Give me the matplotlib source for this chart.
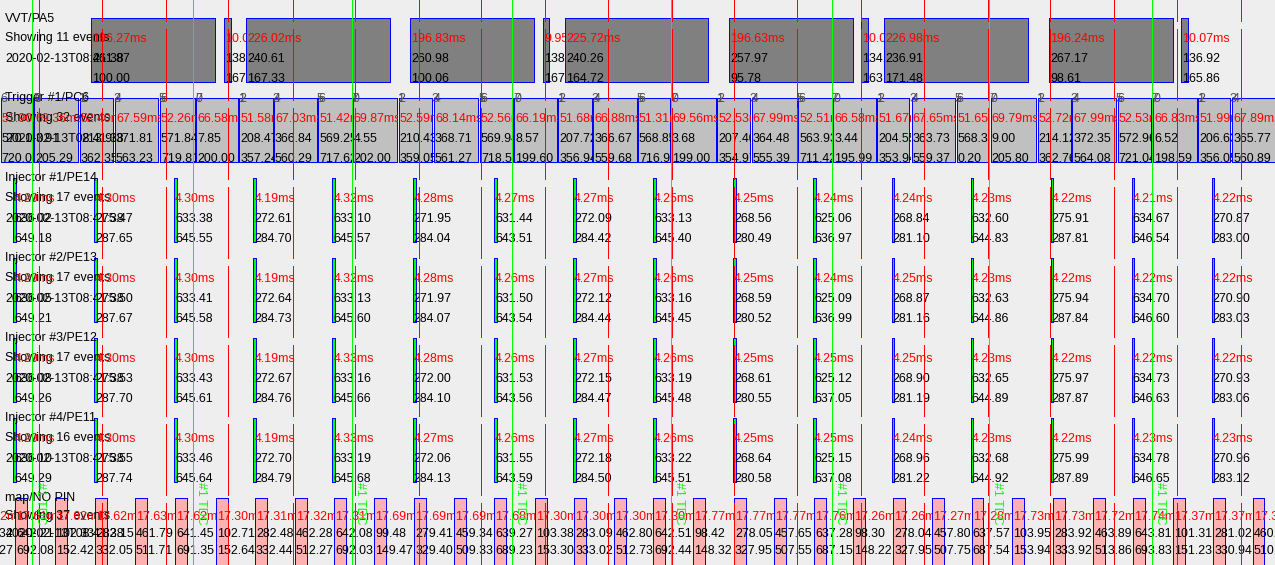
import matplotlib
matplotlib.use('Agg')  # headless
import matplotlib.pyplot as plt
from matplotlib.patches import Rectangle
from matplotlib.transforms import Bbox, TransformedBbox, blended_transform_factory

W, H = 1275, 565
BG = '#eeeeee'
FONT = 'Liberation Sans'
FS = 8.9
PX = 0.72  # one pixel in points at 100 dpi

date_label = '2020-02-13T08:41:38'

# positions are in screen units (pixels along the time axis)
tdc_x = [32.3, 193.3, 351.7, 512.3, 671, 832.3, 989, 1151.7]
tick_x = [39.3, 102.3, 165.7, 228.3, 292.7, 355.3, 418.7, 481, 545.3, 608.3, 671.5,
          734.3, 797.3, 861.3, 924.3, 987.7, 1050, 1114.3, 1177.3, 1240.7]

# VVT/PA5
vvt_start = [91.3, 224, 246.3, 410.3, 543.3, 565, 729.3, 861.3, 884.3, 1049, 1181]
vvt_end = [215.3, 230.7, 389.7, 534.3, 549.3, 708.3, 853.3, 868.3, 1027.7, 1173.3, 1188.3]
vvt_ms = ['196.27ms', '10.03ms', '226.02ms', '196.83ms', '9.95ms', '225.72ms',
          '196.63ms', '10.02ms', '226.98ms', '196.24ms', '10.07ms']
vvt_a = ['261.87', '138.25', '240.61', '260.98', '138.40', '240.26', '257.97',
         '134.50', '236.91', '267.17', '136.92']
vvt_b = ['100.00', '167.12', '167.33', '100.06', '167.60', '164.72', '95.78',
         '163.20', '171.48', '98.61', '165.86']

# Trigger #1/PC6
trg_start = [0.5, 34.3, 80, 115, 160, 196, 239.3, 274, 318.3, 352.7, 398.7, 434, 480,
             514.3, 558.3, 593.3, 638, 671, 717.3, 751.7, 798.3, 833.3, 877.3, 911.7,
             956.7, 990.7, 1037.7, 1072.3, 1117.7, 1153.3, 1198.3, 1232.3]
trg_end = [33.3, 78.3, 113.3, 158.3, 195, 237.7, 272.7, 316.7, 351.7, 397.3, 432, 478.3,
           513.3, 556.7, 591.7, 636.7, 670, 715.7, 750, 796.7, 831.7, 875.7, 909.3, 955,
           989.3, 1036, 1070.7, 1116, 1151, 1196.7, 1230, 1290]
trg_ms = ['51.90ms', '69.36ms', '52.40ms', '67.59ms', '52.26ms', '66.58ms', '51.58ms',
          '67.03ms', '51.42ms', '69.87ms', '52.59ms', '68.14ms', '52.56ms', '66.19ms',
          '51.68ms', '66.88ms', '51.31ms', '69.56ms', '52.53ms', '67.99ms', '52.51ms',
          '66.58ms', '51.67ms', '67.65ms', '51.65ms', '69.79ms', '52.72ms', '67.99ms',
          '52.53ms', '66.83ms', '51.99ms', '67.89ms']
trg_a = ['570.19', '3.91', '213.98', '371.81', '571.84', '7.85', '208.47', '366.84',
         '569.25', '4.55', '210.43', '368.71', '569.94', '8.57', '207.72', '366.67',
         '568.85', '3.68', '207.40', '364.48', '563.93', '3.44', '204.55', '363.73',
         '568.31', '9.00', '214.12', '372.35', '572.96', '6.52', '206.63', '365.77']
trg_b = ['720.03', '205.29', '362.35', '563.23', '719.81', '200.00', '357.24', '560.29',
         '717.62', '202.00', '359.05', '561.27', '718.53', '199.60', '356.94', '559.68',
         '716.93', '199.00', '354.97', '555.39', '711.42', '195.99', '353.94', '559.37',
         '0.20', '205.80', '362.76', '564.08', '721.04', '198.59', '356.05', '560.89']
trg_tooth = [6, 0, 2, 4, 6, 0, 2, 4, 6, 0, 2, 4, 6, 0, 2, 4,
             6, 0, 2, 4, 6, 0, 2, 4, 6, 0, 2, 4, 6, 0, 2, 4]

# injectors (all four fire together)
inj_start = [13.3, 94.3, 174, 253.3, 332.3, 412.7, 494, 573, 653, 733, 813, 891.5,
             970.5, 1050.5, 1131.5, 1211.5]
inj_width = 2.8
inj1_ms = ['4.29ms', '4.30ms', '4.30ms', '4.19ms', '4.32ms', '4.28ms', '4.27ms', '4.27ms',
           '4.25ms', '4.25ms', '4.24ms', '4.24ms', '4.23ms', '4.22ms', '4.21ms', '4.22ms']
inj1_a = ['636.02', '275.47', '633.38', '272.61', '633.10', '271.95', '631.44', '272.09',
          '633.13', '268.56', '625.06', '268.84', '632.60', '275.91', '634.67', '270.87']
inj1_b = ['649.18', '287.65', '645.55', '284.70', '645.57', '284.04', '643.51', '284.42',
          '645.40', '280.49', '636.97', '281.10', '644.83', '287.81', '646.54', '283.00']
inj2_ms = ['4.29ms', '4.30ms', '4.30ms', '4.19ms', '4.32ms', '4.28ms', '4.26ms', '4.27ms',
           '4.26ms', '4.25ms', '4.24ms', '4.25ms', '4.23ms', '4.22ms', '4.22ms', '4.22ms']
inj2_a = ['636.05', '275.50', '633.41', '272.64', '633.13', '271.97', '631.50', '272.12',
          '633.16', '268.59', '625.09', '268.87', '632.63', '275.94', '634.70', '270.90']
inj2_b = ['649.21', '287.67', '645.58', '284.73', '645.60', '284.07', '643.54', '284.44',
          '645.45', '280.52', '636.99', '281.16', '644.86', '287.84', '646.60', '283.03']
inj3_ms = ['4.29ms', '4.30ms', '4.30ms', '4.19ms', '4.33ms', '4.28ms', '4.26ms', '4.27ms',
           '4.26ms', '4.25ms', '4.25ms', '4.25ms', '4.23ms', '4.22ms', '4.22ms', '4.22ms']
inj3_a = ['636.08', '275.53', '633.43', '272.67', '633.16', '272.00', '631.53', '272.15',
          '633.19', '268.61', '625.12', '268.90', '632.65', '275.97', '634.73', '270.93']
inj3_b = ['649.26', '287.70', '645.61', '284.76', '645.66', '284.10', '643.56', '284.47',
          '645.48', '280.55', '637.05', '281.19', '644.89', '287.87', '646.63', '283.06']
inj4_ms = ['4.29ms', '4.30ms', '4.30ms', '4.19ms', '4.33ms', '4.27ms', '4.26ms', '4.27ms',
           '4.26ms', '4.25ms', '4.25ms', '4.24ms', '4.23ms', '4.22ms', '4.23ms', '4.23ms']
inj4_a = ['636.10', '275.55', '633.46', '272.70', '633.19', '272.06', '631.55', '272.18',
          '633.22', '268.64', '625.15', '268.96', '632.68', '275.99', '634.78', '270.96']
inj4_b = ['649.29', '287.74', '645.64', '284.79', '645.68', '284.13', '643.59', '284.50',
          '645.51', '280.58', '637.08', '281.22', '644.92', '287.89', '646.65', '283.12']

# map/NO PIN
map_start = [-25, 15, 55, 95, 135, 175, 216, 255, 295, 334.3, 374.3, 414.3, 454.3, 494.3,
             535, 574.3, 614.3, 653.3, 693.3, 734, 774, 814.3, 853.3, 893.3, 932.3, 971.7,
             1012.3, 1053.3, 1093.3, 1133.3, 1173.3, 1213.3, 1252.7]
map_width = 11.5
map_ms = ['17.32ms', '17.61ms', '17.62ms', '17.62ms', '17.63ms', '17.62ms', '17.30ms',
          '17.31ms', '17.32ms', '17.31ms', '17.69ms', '17.69ms', '17.69ms', '17.68ms',
          '17.30ms', '17.30ms', '17.30ms', '17.30ms', '17.77ms', '17.77ms', '17.77ms',
          '17.76ms', '17.26ms', '17.26ms', '17.27ms', '17.28ms', '17.73ms', '17.73ms',
          '17.72ms', '17.74ms', '17.37ms', '17.37ms', '17.37ms']
map_a = ['462.34', '642.21', '102.33', '282.15', '461.79', '641.45', '102.71', '282.48',
         '462.28', '642.08', '99.48', '279.41', '459.34', '639.27', '103.38', '283.09',
         '462.80', '642.51', '98.42', '278.05', '457.65', '637.28', '98.30', '278.04',
         '457.80', '637.57', '103.95', '283.92', '463.89', '643.81', '101.31', '281.02',
         '460.97']
map_b = ['512.27', '692.08', '152.42', '332.05', '511.71', '691.35', '152.64', '332.44',
         '512.27', '692.03', '149.47', '329.40', '509.33', '689.23', '153.30', '333.02',
         '512.73', '692.44', '148.32', '327.95', '507.55', '687.15', '148.22', '327.95',
         '507.75', '687.54', '153.94', '333.92', '513.86', '693.83', '151.23', '330.94',
         '510.92']

fig = plt.figure(figsize=(W / 100, H / 100), dpi=100)
fig.patch.set_facecolor(BG)
ax = fig.add_axes([0, 0, 1, 1])
ax.set_xlim(0, W)
ax.set_ylim(H, 0)
ax.axis('off')
xclip = blended_transform_factory(ax.transData, ax.transAxes)


def label(x, y, s, color='black', right=None):
    t = ax.text(x, y, s, color=color, fontsize=FS, family=FONT, va='baseline', ha='left',
                zorder=3)
    if right is not None:
        # each event's text only runs until the next event starts
        t.set_clip_box(TransformedBbox(Bbox([[x - 1, 0], [right, 1]]), xclip))
        t.set_clip_path(None)
        t.set_clip_on(True)
    return t


def row(y0, name, count, starts, ends, ms, a, b, fill, lines=(21.5, 41.5, 61.5, 81.5),
        bottom=82):
    label(5, y0 + lines[0], name)
    label(5, y0 + lines[1], f'Showing {count} events')
    label(5, y0 + lines[2], date_label)
    for i, (s, e) in enumerate(zip(starts, ends)):
        ax.add_patch(Rectangle((s, y0 + 18), e - s, bottom - 18, facecolor=fill,
                               edgecolor='#0000ff', lw=PX, antialiased=False, zorder=1))
        nxt = starts[i + 1] - 0.5 if i + 1 < len(starts) else W
        label(s + 1, y0 + lines[1], ms[i], '#ff0000', nxt)
        label(s + 1, y0 + lines[2], a[i], 'black', nxt)
        label(s + 1, y0 + lines[3], b[i], 'black', nxt)


row(0, 'VVT/PA5', 11, vvt_start, vvt_end, vvt_ms, vvt_a, vvt_b, '#808080', bottom=81.5)
row(80, 'Trigger #1/PC6', 32, trg_start, trg_end, trg_ms, trg_a, trg_b, '#c0c0c0')
for s, e, t in zip(trg_start, trg_end, trg_tooth):
    label(s, 80 + 21.5, str(t), '#505050')
    label(e, 80 + 21.5, str((t + 1) % 8), '#505050')

inj_end = [s + inj_width for s in inj_start]
injectors = [('Injector #1/PE14', 17, inj1_ms, inj1_a, inj1_b),
             ('Injector #2/PE13', 17, inj2_ms, inj2_a, inj2_b),
             ('Injector #3/PE12', 17, inj3_ms, inj3_a, inj3_b),
             ('Injector #4/PE11', 16, inj4_ms, inj4_a, inj4_b)]
for k, (name, cnt, ms, a, b) in enumerate(injectors):
    row(160 + 80 * k, name, cnt, inj_start, inj_end, ms, a, b, '#00ff00')

map_end = [s + map_width for s in map_start]
row(480, 'map/NO PIN', 37, map_start, map_end, map_ms, map_a, map_b, '#ffb0b0',
    lines=(20.5, 39.5, 57, 74.5), bottom=90)

# time ticks (red dashed) and #1 TDC markers (green)
ax.vlines(tick_x, 0, H, colors='#ff0000', lw=PX, linestyles=[(50, (72, 8))],
          antialiased=False, zorder=4)
ax.vlines(tdc_x, 0, H, colors='#00ff00', lw=PX, antialiased=False, zorder=4)
for gx in tdc_x:
    ax.text(gx + 2, 482, '#1 TDC', color='#00ff00', fontsize=FS, family=FONT,
            rotation=-90, ha='left', va='top', zorder=4)

fig.savefig('out.png', dpi=100, facecolor=BG)
plt.close(fig)
